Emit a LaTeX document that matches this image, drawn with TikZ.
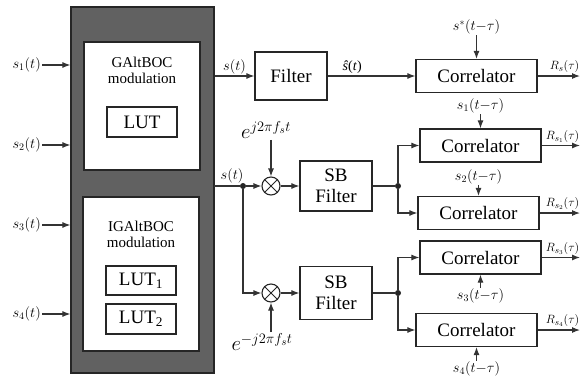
\documentclass[tikz,border=0pt]{standalone}
\usepackage{fontspec}
\setmainfont{Liberation Serif}
\usetikzlibrary{arrows.meta}
\begin{document}
\begin{tikzpicture}[x=1pt,y=-1pt,
 box/.style={draw=black!85,line width=1.2pt,fill=white,inner sep=0pt,font=\fontsize{19}{21}\selectfont},
 corr/.style={box,minimum width=121pt,minimum height=33pt},
 lut/.style={box,minimum width=70pt,minimum height=30pt},
 line/.style={draw=black!80,line width=1.1pt},
 arr/.style={line,-{Latex[length=8pt,width=6pt]}},
 lbl/.style={font=\fontsize{14}{16}\selectfont,inner sep=1pt},
 rlbl/.style={font=\fontsize{13}{15}\selectfont,inner sep=0.5pt,anchor=south east},
 elbl/.style={font=\fontsize{22}{24}\selectfont,inner sep=1pt},
 mult/.style={circle,draw=black!85,line width=1.1pt,minimum size=18pt,inner sep=0pt,
   path picture={\draw[black!85,line width=1pt]
     (path picture bounding box.north west)--(path picture bounding box.south east)
     (path picture bounding box.north east)--(path picture bounding box.south west);}},
 dot/.style={circle,fill=black!85,minimum size=6pt,inner sep=0pt},
 modtxt/.style={font=\fontsize{15}{16}\selectfont,align=center,inner sep=0pt}]
\useasboundingbox (0,0) rectangle (580,378);
% modulator block
\node[draw=black!85,fill=black!62,line width=1.2pt,minimum width=143pt,minimum height=366pt,inner sep=0pt] (mod) at (142.5,190) {};
\node[box,minimum width=116pt,minimum height=128pt] (ga) at (142,106) {};
\node[modtxt] (gat) at (142,70) {GAltBOC\\modulation};
\node[lut] (lut) at (142,122) {LUT};
\node[box,minimum width=116pt,minimum height=154pt] (iga) at (141,274) {};
\node[modtxt] (igat) at (141,234.5) {IGAltBOC\\modulation};
\node[lut,minimum height=29pt] (lut1) at (141,280.5) {LUT\textsubscript{1}};
\node[lut] (lut2) at (141,319) {LUT\textsubscript{2}};
% inputs
\node[lbl,anchor=east] (s1) at (42,65) {$s_1(t)$};
\node[lbl,anchor=east] (s2) at (42,145) {$s_2(t)$};
\node[lbl,anchor=east] (s3) at (42,225) {$s_3(t)$};
\node[lbl,anchor=east] (s4) at (42,314) {$s_4(t)$};
\foreach \n in {s1,s2,s3,s4} \draw[arr] (\n.east) -- (\n.east -| mod.west);
% top branch
\node[box,minimum width=72pt,minimum height=48pt] (filt) at (291,76) {Filter};
\draw[arr] (mod.east |- filt) -- (filt.west) node[midway,above,lbl] {$s(t)$};
\node[corr] (c1) at (476.5,76) {Correlator};
\draw[arr] (filt) -- (c1) node[pos=0.28,above=1pt,lbl] {\textit{ŝ}(\textit{t})};
\node[lbl] (l1) at (476.5,27) {$s^{*}(t{-}\tau)$};
\draw[arr] (l1) -- (c1);
\coordinate (o1) at (580,76);
\draw[arr] (c1) -- (o1);
\node[rlbl] at (580,73) {$R_s(\tau)$};
% middle
\coordinate (m0) at (214,186);
\node[dot] (d1) at (243,186) {};
\node[mult] (x1) at (271,186) {};
\node[box,minimum width=72pt,minimum height=50pt,align=center] (sb1) at (336,186) {SB\\Filter};
\draw[line] (m0) -- (d1);
\node[lbl,anchor=south] at (232,184) {$s(t)$};
\draw[arr] (d1) -- (x1);
\draw[arr] (x1) -- (sb1);
\node[elbl] (e1) at (266,130) {$e^{j2\pi f_s t}$};
\draw[arr] (e1.south -| x1) -- (x1.north);
\node[dot] (d2) at (398,186) {};
\draw[line] (sb1) -- (d2);
\node[corr] (c2) at (480.5,145.5) {Correlator};
\node[corr] (c3) at (478.5,213) {Correlator};
\draw[arr] (d2) |- (c2.west);
\draw[arr] (d2) |- (c3.west);
\node[lbl] (l2) at (480.5,106) {$s_1(t{-}\tau)$};
\draw[arr] (l2) -- (c2);
\node[lbl] (l3) at (478.5,177) {$s_2(t{-}\tau)$};
\draw[arr] (l3) -- (c3);
% bottom
\node[mult] (x2) at (271,293) {};
\draw[arr] (d1) |- (x2);
\node[box,minimum width=72pt,minimum height=53pt,align=center] (sb2) at (336,293) {SB\\Filter};
\draw[arr] (x2) -- (sb2);
\node[elbl] (e2) at (262,342) {$e^{-j2\pi f_s t}$};
\draw[arr] (e2.north -| x2) -- (x2.south);
\node[dot] (d3) at (398,293) {};
\draw[line] (sb2) -- (d3);
\node[corr] (c4) at (480.5,257.5) {Correlator};
\node[corr] (c5) at (476.5,330) {Correlator};
\draw[arr] (d3) |- (c4.west);
\draw[arr] (d3) |- (c5.west);
\node[lbl] (l4) at (480.5,296) {$s_3(t{-}\tau)$};
\draw[arr] (l4) -- (c4);
\node[lbl] (l5) at (476.5,369) {$s_4(t{-}\tau)$};
\draw[arr] (l5) -- (c5);
% outputs
\coordinate (o2) at (580,145.5);
\coordinate (o3) at (580,213);
\coordinate (o4) at (580,257.5);
\coordinate (o5) at (580,330);
\draw[arr] (c2) -- (o2);
\draw[arr] (c3) -- (o3);
\draw[arr] (c4) -- (o4);
\draw[arr] (c5) -- (o5);
\node[rlbl] at (580,143) {$R_{s_1}(\tau)$};
\node[rlbl] at (580,210.5) {$R_{s_2}(\tau)$};
\node[rlbl] at (580,255) {$R_{s_3}(\tau)$};
\node[rlbl] at (580,327.5) {$R_{s_4}(\tau)$};
\end{tikzpicture}
\end{document}
